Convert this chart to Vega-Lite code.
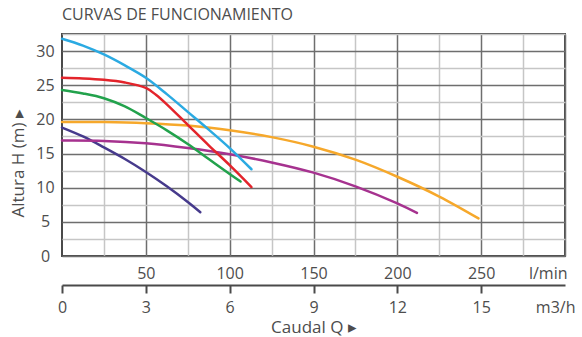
{
  "$schema": "https://vega.github.io/schema/vega-lite/v6.json",
  "width": 503,
  "height": 222,
  "autosize": {"type": "none"},
  "padding": {"left": 62, "top": 34, "right": 17, "bottom": 81},
  "background": "white",
  "config": {
    "view": {"stroke": "#4a4a4a", "strokeWidth": 2},
    "font": "Open Sans",
    "axis": {"labelFont": "Open Sans", "titleFont": "Open Sans", "labelColor": "#4d4d4d", "titleColor": "#4d4d4d", "labelFontSize": 16, "titleFontSize": 17, "titleFontWeight": "normal"}
  },
  "title": {"text": "CURVAS DE FUNCIONAMIENTO", "anchor": "start", "frame": "group", "fontSize": 16, "fontWeight": "normal", "color": "#4d4d4d", "font": "Open Sans", "offset": 3},
  "data": {
    "values": [
      {"serie": "F", "q": 0, "h": 18.8},
      {"serie": "F", "q": 12.5, "h": 17.5},
      {"serie": "F", "q": 25, "h": 15.9},
      {"serie": "F", "q": 37.5, "h": 14.2},
      {"serie": "F", "q": 50, "h": 12.3},
      {"serie": "F", "q": 62.5, "h": 10.2},
      {"serie": "F", "q": 75, "h": 7.9},
      {"serie": "F", "q": 82.5, "h": 6.4},
      {"serie": "E", "q": 0, "h": 16.9},
      {"serie": "E", "q": 25, "h": 16.85},
      {"serie": "E", "q": 50, "h": 16.5},
      {"serie": "E", "q": 75, "h": 15.8},
      {"serie": "E", "q": 100, "h": 14.9},
      {"serie": "E", "q": 125, "h": 13.7},
      {"serie": "E", "q": 150, "h": 12.2},
      {"serie": "E", "q": 175, "h": 10.2},
      {"serie": "E", "q": 200, "h": 7.7},
      {"serie": "E", "q": 211.7, "h": 6.3},
      {"serie": "D", "q": 0, "h": 19.6},
      {"serie": "D", "q": 25, "h": 19.6},
      {"serie": "D", "q": 50, "h": 19.45},
      {"serie": "D", "q": 75, "h": 19.1},
      {"serie": "D", "q": 100, "h": 18.4},
      {"serie": "D", "q": 125, "h": 17.4},
      {"serie": "D", "q": 150, "h": 16.0},
      {"serie": "D", "q": 175, "h": 14.1},
      {"serie": "D", "q": 200, "h": 11.6},
      {"serie": "D", "q": 225, "h": 8.7},
      {"serie": "D", "q": 248.4, "h": 5.5},
      {"serie": "C", "q": 0, "h": 24.3},
      {"serie": "C", "q": 12.5, "h": 23.8},
      {"serie": "C", "q": 25, "h": 23.1},
      {"serie": "C", "q": 37.5, "h": 21.9},
      {"serie": "C", "q": 50, "h": 20.2},
      {"serie": "C", "q": 62.5, "h": 18.4},
      {"serie": "C", "q": 75, "h": 16.4},
      {"serie": "C", "q": 87.5, "h": 14.2},
      {"serie": "C", "q": 100, "h": 12.0},
      {"serie": "C", "q": 106.5, "h": 10.9},
      {"serie": "B", "q": 0, "h": 26.1},
      {"serie": "B", "q": 12.5, "h": 26.0},
      {"serie": "B", "q": 25, "h": 25.8},
      {"serie": "B", "q": 37.5, "h": 25.4},
      {"serie": "B", "q": 50, "h": 24.6},
      {"serie": "B", "q": 56, "h": 23.6},
      {"serie": "B", "q": 62.5, "h": 22.2},
      {"serie": "B", "q": 75, "h": 19.2},
      {"serie": "B", "q": 87.5, "h": 16.2},
      {"serie": "B", "q": 100, "h": 13.3},
      {"serie": "B", "q": 113, "h": 10.1},
      {"serie": "A", "q": 0, "h": 31.8},
      {"serie": "A", "q": 12.5, "h": 30.8},
      {"serie": "A", "q": 25, "h": 29.5},
      {"serie": "A", "q": 37.5, "h": 27.9},
      {"serie": "A", "q": 50, "h": 26.1},
      {"serie": "A", "q": 62.5, "h": 23.7},
      {"serie": "A", "q": 75, "h": 21.1},
      {"serie": "A", "q": 87.5, "h": 18.5},
      {"serie": "A", "q": 100, "h": 15.8},
      {"serie": "A", "q": 113, "h": 12.7}
    ]
  },
  "layer": [
    {
      "mark": {"type": "line", "interpolate": "catmull-rom", "strokeWidth": 2.5, "strokeCap": "round"},
      "encoding": {
        "x": {
          "field": "q", "type": "quantitative",
          "scale": {"domain": [0, 300], "nice": false, "zero": false},
          "axis": {
            "orient": "bottom",
            "values": [25, 50, 75, 100, 125, 150, 175, 200, 225, 250, 275, 300],
            "grid": true,
            "gridColor": {"condition": {"test": "datum.value % 50 === 0", "value": "#6e6e6e"}, "value": "#c6c6c6"},
            "gridWidth": 1.5,
            "domain": false,
            "ticks": false,
            "labelPadding": 9,
            "labelFlush": false,
            "labelOverlap": false,
            "labelBound": false,
            "labelExpr": "datum.value === 300 ? 'l/min' : (datum.value % 50 === 0 ? datum.label : '')",
            "labelAlign": {"condition": {"test": "datum.value === 300", "value": "right"}, "value": "center"},
            "labelOffset": {"condition": {"test": "datum.value === 300", "value": 2}, "value": 0},
            "title": null
          }
        },
        "y": {
          "field": "h", "type": "quantitative",
          "scale": {"domain": [0, 32.5], "nice": false},
          "axis": {
            "values": [0, 2.5, 5, 7.5, 10, 12.5, 15, 17.5, 20, 22.5, 25, 27.5, 30, 32.5],
            "grid": true,
            "gridColor": {"condition": {"test": "datum.value % 5 === 0", "value": "#6e6e6e"}, "value": "#c6c6c6"},
            "gridWidth": 1.5,
            "domain": false,
            "ticks": false,
            "labelPadding": 17,
            "labelAlign": "center",
            "labelFlush": false,
            "labelOverlap": false,
            "labelBound": false,
            "labelExpr": "datum.value % 5 === 0 ? datum.label : ''",
            "title": "Altura H (m)    ▸",
            "titleX": -44,
            "titleY": 183,
            "titleAlign": "left",
            "titleAngle": -90,
            "titleBaseline": "middle"
          }
        },
        "color": {
          "field": "serie", "type": "nominal",
          "scale": {"domain": ["A", "B", "C", "D", "E", "F"], "range": ["#2baae2", "#e3242b", "#22a24c", "#f6a82b", "#a6328f", "#463a8c"]},
          "legend": null
        }
      }
    },
    {
      "mark": {"type": "point", "opacity": 0},
      "encoding": {
        "x": {
          "field": "q", "type": "quantitative",
          "scale": {"domain": [0, 300], "nice": false, "zero": false},
          "axis": {
            "orient": "bottom",
            "offset": 29,
            "values": [0, 50, 100, 150, 200, 250, 300],
            "grid": false,
            "domain": true,
            "domainColor": "#4a4a4a",
            "domainWidth": 2,
            "ticks": true,
            "tickSize": 8,
            "tickWidth": 2,
            "tickColor": {"condition": {"test": "datum.value === 300", "value": "transparent"}, "value": "#4a4a4a"},
            "labelPadding": 6,
            "labelFlush": false,
            "labelOverlap": false,
            "labelBound": false,
            "labelExpr": "datum.value === 300 ? 'm3/h' : format(datum.value * 3 / 50, 'd')",
            "labelAlign": {"condition": {"test": "datum.value === 300", "value": "right"}, "value": "center"},
            "labelOffset": {"condition": {"test": "datum.value === 300", "value": 10}, "value": 0},
            "title": "Caudal Q    ▸",
            "titlePadding": 4
          }
        }
      }
    }
  ],
  "resolve": {"scale": {"x": "independent"}}
}
